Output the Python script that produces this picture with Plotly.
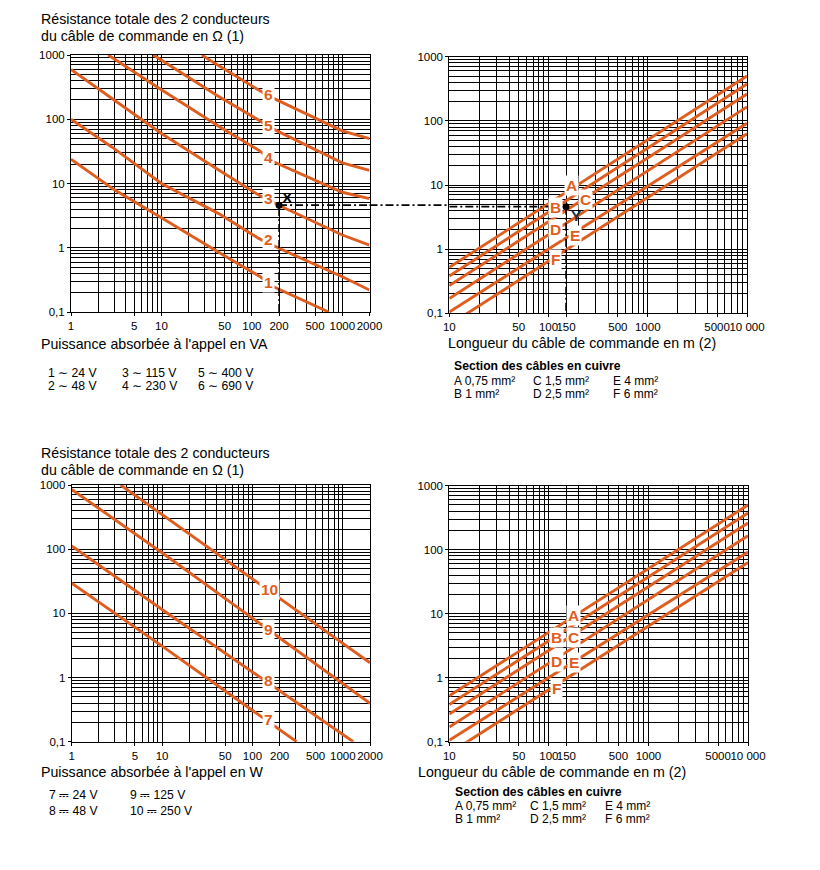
import numpy as np
import plotly.graph_objects as go

# ---------------- data ----------------
# Top-left: resistance vs. inrush power (VA), curves 1..6
va1_x = [1, 3.05, 10, 39, 124, 174, 708]
va1_y = [23.8, 7.9, 2.94, 0.92, 0.354, 0.247, 0.1]
va2_x = [1, 2.8, 10, 43, 119, 200, 1000, 2000]
va2_y = [100, 37.4, 10, 3.4, 1.4, 0.98, 0.354, 0.22]
va3_x = [1, 2.8, 6.6, 10, 43, 119, 215, 1000, 2000]
va3_y = [598, 211, 91.6, 60, 16.2, 6.6, 4.35, 1.58, 1.1]
va4_x = [2.58, 10, 43, 119, 174, 1000, 2000]
va4_y = [1000, 288, 78, 33, 21.8, 7.3, 5.8]
va5_x = [8.15, 40, 119, 167, 1000, 2000]
va5_y = [1000, 240, 97, 72, 21, 16]
va6_x = [28, 39, 119, 174, 1000, 1400, 2000]
va6_y = [1000, 741, 285, 211, 66, 57, 50]
va_names = ["1", "2", "3", "4", "5", "6"]
va_label_x = [152, 152, 152, 152, 152, 152]
va_label_y = [0.293, 1.32, 5.74, 25.8, 78.5, 247]

# Bottom-left: resistance vs. inrush power (W), curves 7..10
w7_x = [1, 10.3, 308]
w7_y = [29.4, 3.0, 0.1]
w8_x = [1, 10, 1306]
w8_y = [112, 11.5, 0.1]
w9_x = [1, 10, 2000]
w9_y = [855, 88, 0.395]
w10_x = [3.48, 2000]
w10_y = [1000, 1.7]
w_names = ["7", "8", "9", "10"]
w_label_x = [150, 150, 150, 154]
w_label_y = [0.223, 0.89, 5.6, 23.7]

# Right: resistance vs. cable length (m), sections A..F
len_x = [10, 10000]
cabA_y = [0.52, 500]
cabB_y = [0.38, 375]
cabC_y = [0.27, 262]
cabD_y = [0.17, 165]
cabE_y = [0.105, 92]
cabF_y = [0.066, 63]
cab_names = ["A", "B", "C", "D", "E", "F"]
cab_label_top_x = [172, 117, 238, 117, 185, 117]
cab_label_top_y = [10, 4.4, 6.05, 2.0, 1.66, 0.70]
cab_label_bot_x = [175, 119, 177, 119, 177, 119]
cab_label_bot_y = [9.5, 4.2, 4.2, 1.82, 1.71, 0.68]

# worked example: 200 VA on curve 3 -> 4.6 ohm -> 150 m
ex_power = 200
ex_res = 4.6
ex_len = 150
ex_floor = 0.1

# tick labels
va_ticks = [1, 5, 10, 50, 100, 200, 500, 1000, 2000]
va_ticktext = ["1", "5", "10", "50", "100", "200", "500", "1000", "2000"]
len_ticks = [10, 50, 100, 150, 500, 1000, 5000, 10000]
len_ticktext = ["10", "50", "100", "150", "500", "1000", "5000", "10 000"]
res_ticks = [0.1, 1, 10, 100, 1000]
res_ticktext = ["0,1", "1", "10", "100", "1000"]

# ---------------- styling ----------------
FONT = "Liberation Sans, Arial, Helvetica, sans-serif"
ORANGE = "#DF5E1F"
W, H = 820, 870


def px(x):
    return x / W


def py(y):
    return 1 - y / H


def minor_vals(lo_exp, hi_exp, vmax):
    out = []
    for e in range(lo_exp, hi_exp + 1):
        for k in range(1, 10):
            v = k * 10.0 ** e
            if v <= vmax * 1.0001:
                out.append(v)
    return out


def log_axis(domain, lo, hi, tickvals, ticktext, minors, anchor):
    return dict(
        type="log", domain=domain, range=[np.log10(lo), np.log10(hi)],
        tickmode="array", tickvals=tickvals, ticktext=ticktext,
        showgrid=True, gridcolor="black", gridwidth=1,
        minor=dict(tickmode="array", tickvals=minors, showgrid=True,
                   gridcolor="black", gridwidth=1, ticks=""),
        showline=True, linecolor="black", linewidth=1, mirror=True,
        ticks="outside", ticklen=3, tickcolor="black", tickangle=0,
        tickfont=dict(size=11.5, color="black", family=FONT),
        zeroline=False, anchor=anchor, fixedrange=True, automargin=False,
    )


fig = go.Figure()

line_style = dict(color=ORANGE, width=2.9)

# top-left curves
for xs, ys, nm in zip([va1_x, va2_x, va3_x, va4_x, va5_x, va6_x],
                      [va1_y, va2_y, va3_y, va4_y, va5_y, va6_y], va_names):
    fig.add_trace(go.Scatter(x=xs, y=ys, mode="lines", line=line_style,
                             name=nm, xaxis="x", yaxis="y", showlegend=False,
                             hoverinfo="skip"))
# bottom-left curves
for xs, ys, nm in zip([w7_x, w8_x, w9_x, w10_x],
                      [w7_y, w8_y, w9_y, w10_y], w_names):
    fig.add_trace(go.Scatter(x=xs, y=ys, mode="lines", line=line_style,
                             name=nm, xaxis="x3", yaxis="y3", showlegend=False,
                             hoverinfo="skip"))
# right cable lines (top and bottom)
cab_ys = [cabA_y, cabB_y, cabC_y, cabD_y, cabE_y, cabF_y]
for xa, ya in [("x2", "y2"), ("x4", "y4")]:
    for ys, nm in zip(cab_ys, cab_names):
        fig.add_trace(go.Scatter(x=len_x, y=ys, mode="lines", line=line_style,
                                 name=nm, xaxis=xa, yaxis=ya, showlegend=False,
                                 hoverinfo="skip"))

# worked example construction lines
DASH = "8px,3px,2px,3px"
dash_style = dict(color="black", width=1.6, dash=DASH)
fig.add_trace(go.Scatter(x=[ex_power, ex_power], y=[ex_floor, ex_res], mode="lines",
                         line=dash_style, xaxis="x", yaxis="y", showlegend=False,
                         hoverinfo="skip"))
fig.add_trace(go.Scatter(x=[ex_power, va_ticks[-1]], y=[ex_res, ex_res], mode="lines",
                         line=dash_style, xaxis="x", yaxis="y", showlegend=False,
                         hoverinfo="skip"))
fig.add_trace(go.Scatter(x=[len_ticks[0], ex_len], y=[ex_res, ex_res], mode="lines",
                         line=dash_style, xaxis="x2", yaxis="y2", showlegend=False,
                         hoverinfo="skip"))
fig.add_trace(go.Scatter(x=[ex_len, ex_len], y=[ex_res, ex_floor], mode="lines",
                         line=dash_style, xaxis="x2", yaxis="y2", showlegend=False,
                         hoverinfo="skip"))
fig.add_trace(go.Scatter(x=[ex_power], y=[ex_res], mode="markers",
                         marker=dict(color="black", size=7), xaxis="x", yaxis="y",
                         showlegend=False, hoverinfo="skip"))
fig.add_trace(go.Scatter(x=[ex_len], y=[ex_res], mode="markers",
                         marker=dict(color="black", size=7), xaxis="x2", yaxis="y2",
                         showlegend=False, hoverinfo="skip"))

# domains (pixel boxes of the four charts)
dom_tl_x = [px(71), px(369.5)]
dom_tl_y = [py(312), py(55)]
dom_tr_x = [px(449.3), px(747)]
dom_tr_y = [py(313.3), py(56.7)]
dom_bl_x = [px(71.7), px(370)]
dom_bl_y = [py(741.7), py(485)]
dom_br_x = [px(449.3), px(748)]
dom_br_y = [py(741.7), py(485.7)]

va_minor = minor_vals(0, 3, 2000)
len_minor = minor_vals(1, 4, 10000)
res_minor = minor_vals(-1, 3, 1000)

layout = dict(
    template="none",
    width=W, height=H, autosize=False, margin=dict(l=0, r=0, t=0, b=0, pad=0),
    paper_bgcolor="white", plot_bgcolor="white",
    font=dict(family=FONT, color="black"),
    showlegend=False,
    xaxis=log_axis(dom_tl_x, 1, 2000, va_ticks, va_ticktext, va_minor, "y"),
    yaxis=log_axis(dom_tl_y, 0.1, 1000, res_ticks, res_ticktext, res_minor, "x"),
    xaxis2=log_axis(dom_tr_x, 10, 10000, len_ticks, len_ticktext, len_minor, "y2"),
    yaxis2=log_axis(dom_tr_y, 0.1, 1000, res_ticks, res_ticktext, res_minor, "x2"),
    xaxis3=log_axis(dom_bl_x, 1, 2000, va_ticks, va_ticktext, va_minor, "y3"),
    yaxis3=log_axis(dom_bl_y, 0.1, 1000, res_ticks, res_ticktext, res_minor, "x3"),
    xaxis4=log_axis(dom_br_x, 10, 10000, len_ticks, len_ticktext, len_minor, "y4"),
    yaxis4=log_axis(dom_br_y, 0.1, 1000, res_ticks, res_ticktext, res_minor, "x4"),
)
fig.update_layout(**layout)

# horizontal dashed link across the gap between the two top charts
fig.add_shape(type="line", xref="paper", yref="y",
              x0=dom_tl_x[1], x1=dom_tr_x[0],
              y0=ex_res, y1=ex_res,
              line=dict(color="black", width=1.6, dash=DASH))

ann = []


def curve_label(text, x, y, xr, yr):
    ann.append(dict(x=np.log10(x), y=np.log10(y), xref=xr, yref=yr, text="<b>%s</b>" % text,
                    showarrow=False, font=dict(size=15.5, color=ORANGE, family=FONT),
                    bgcolor="white", borderpad=1, xanchor="center", yanchor="middle"))


for t, x, y in zip(va_names, va_label_x, va_label_y):
    curve_label(t, x, y, "x", "y")
for t, x, y in zip(w_names, w_label_x, w_label_y):
    curve_label(t, x, y, "x3", "y3")
for t, x, y in zip(cab_names, cab_label_top_x, cab_label_top_y):
    curve_label(t, x, y, "x2", "y2")
for t, x, y in zip(cab_names, cab_label_bot_x, cab_label_bot_y):
    curve_label(t, x, y, "x4", "y4")

# X / Y markers text
ann.append(dict(x=np.log10(250), y=np.log10(5.95), xref="x", yref="y", text="<b>X</b>",
                showarrow=False, font=dict(size=15.5, color="black", family=FONT)))
ann.append(dict(x=np.log10(192), y=np.log10(3.4), xref="x2", yref="y2", text="<b>Y</b>",
                showarrow=False, font=dict(size=15.5, color="#1c2f4f", family=FONT)))


def text_at(x, y, text, size=14.2, bold=False):
    if bold:
        text = "<b>%s</b>" % text
    ann.append(dict(x=px(x), y=py(y), xref="paper", yref="paper", text=text,
                    showarrow=False, xanchor="left", yanchor="middle",
                    font=dict(size=size, color="black", family=FONT)))


# top-left texts
text_at(39, 19, "Résistance totale des 2 conducteurs")
text_at(39, 36, "du câble de commande en Ω (1)")
text_at(39, 344, "Puissance absorbée à l'appel en VA")
text_at(46, 373, "1 ∼ 24 V", 12.2)
text_at(46, 386, "2 ∼ 48 V", 12.2)
text_at(120, 373, "3 ∼ 115 V", 12.2)
text_at(120, 386, "4 ∼ 230 V", 12.2)
text_at(196, 373, "5 ∼ 400 V", 12.2)
text_at(196, 386, "6 ∼ 690 V", 12.2)

# top-right texts
text_at(446, 343, "Longueur du câble de commande en m (2)")
text_at(452, 366, "Section des câbles en cuivre", 12.2, True)
text_at(452, 381, "A 0,75 mm²", 12)
text_at(452, 394, "B 1 mm²", 12)
text_at(531, 381, "C 1,5 mm²", 12)
text_at(531, 394, "D 2,5 mm²", 12)
text_at(611, 381, "E 4 mm²", 12)
text_at(611, 394, "F 6 mm²", 12)

# bottom-left texts
text_at(39, 453, "Résistance totale des 2 conducteurs")
text_at(39, 470, "du câble de commande en Ω (1)")
text_at(39, 772, "Puissance absorbée à l'appel en W")
text_at(47, 795, "7 ⎓ 24 V", 12.2)
text_at(47, 811, "8 ⎓ 48 V", 12.2)
text_at(128, 795, "9 ⎓ 125 V", 12.2)
text_at(128, 811, "10 ⎓ 250 V", 12.2)

# bottom-right texts
text_at(416, 772, "Longueur du câble de commande en m (2)")
text_at(453, 792, "Section des câbles en cuivre", 12.2, True)
text_at(453, 806, "A 0,75 mm²", 12)
text_at(453, 819, "B 1 mm²", 12)
text_at(528, 806, "C 1,5 mm²", 12)
text_at(528, 819, "D 2,5 mm²", 12)
text_at(603, 806, "E 4 mm²", 12)
text_at(603, 819, "F 6 mm²", 12)

fig.update_layout(annotations=ann)

fig.write_html("out.html", config={"displayModeBar": False},
               post_script="document.body.style.margin='0';")
